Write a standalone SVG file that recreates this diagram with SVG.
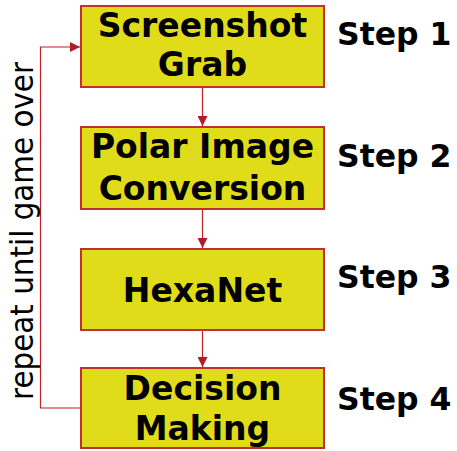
<svg xmlns="http://www.w3.org/2000/svg" width="457" height="451" viewBox="0 0 457 451">
<style>
.box{fill:#e0dc19;stroke:#c0302f;stroke-width:2}
.lbl{font-family:"DejaVu Sans",Verdana,sans-serif;font-weight:bold;font-size:33px;fill:#000;text-anchor:middle}
.step{font-family:"DejaVu Sans",Verdana,sans-serif;font-weight:bold;font-size:31.5px;fill:#000}
.side{font-family:"DejaVu Sans",Verdana,sans-serif;font-size:32px;fill:#000}
.con{fill:none;stroke:#c0202a;stroke-width:1.2}
</style>
<defs>
<marker id="ah" viewBox="0 0 10 10" refX="10" refY="5" markerWidth="10" markerHeight="10" markerUnits="userSpaceOnUse" orient="auto">
<path d="M0,0 L10,5 L0,10 Z" fill="#b01c28"/>
</marker>
</defs>
<rect width="457" height="451" fill="#fff"/>
<g id="connectors">
<line class="con" x1="202.5" y1="88" x2="202.5" y2="126" marker-end="url(#ah)"/>
<line class="con" x1="202.5" y1="210" x2="202.5" y2="248" marker-end="url(#ah)"/>
<line class="con" x1="202.5" y1="331" x2="202.5" y2="367" marker-end="url(#ah)"/>
<polyline class="con" points="80,408 40.5,408 40.5,47 80,47" marker-end="url(#ah)"/>
</g>
<g id="node1">
<rect class="box" x="81" y="6" width="243" height="81"/>
<text class="lbl" x="202.5" y="37">Screenshot</text>
<text class="lbl" x="202.5" y="76">Grab</text>
</g>
<g id="node2">
<rect class="box" x="81" y="127" width="243" height="82"/>
<text class="lbl" x="202.5" y="158">Polar Image</text>
<text class="lbl" x="202.5" y="200">Conversion</text>
</g>
<g id="node3">
<rect class="box" x="81" y="249" width="243" height="81"/>
<text class="lbl" x="202.5" y="302">HexaNet</text>
</g>
<g id="node4">
<rect class="box" x="81" y="368" width="243" height="80"/>
<text class="lbl" x="202.5" y="400">Decision</text>
<text class="lbl" x="202.5" y="440">Making</text>
</g>
<g id="steps">
<text class="step" x="337" y="45">Step 1</text>
<text class="step" x="337" y="167">Step 2</text>
<text class="step" x="337" y="288">Step 3</text>
<text class="step" x="337" y="410">Step 4</text>
</g>
<text class="side" transform="translate(33,400) rotate(-90)" textLength="338" lengthAdjust="spacingAndGlyphs">repeat until game over</text>
</svg>
